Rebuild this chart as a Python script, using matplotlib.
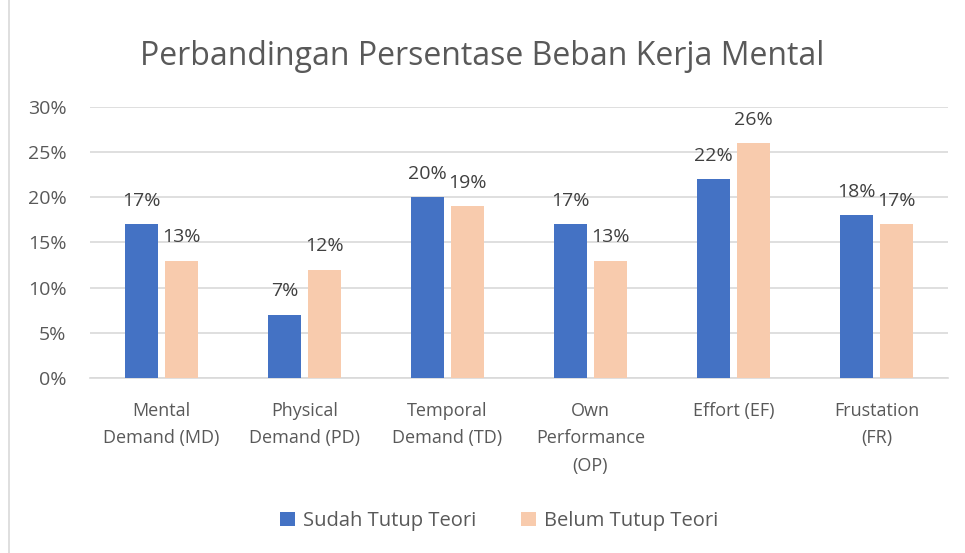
import matplotlib.pyplot as plt
import numpy as np
from matplotlib.patches import Rectangle

categories = ["Mental\nDemand (MD)", "Physical\nDemand (PD)", "Temporal\nDemand (TD)",
              "Own\nPerformance\n(OP)", "Effort (EF)", "Frustation\n(FR)"]
sudah = [17, 7, 20, 17, 22, 18]
belum = [13, 12, 19, 13, 26, 17]
series_names = ["Sudah Tutup Teori", "Belum Tutup Teori"]
yticks = [0, 5, 10, 15, 20, 25, 30]

plt.rcParams['font.family'] = ['Open Sans', 'DejaVu Sans']
text_col = "#595959"

fig = plt.figure(figsize=(9.65, 5.53), dpi=100)
ax = fig.add_axes([0.0933, 0.3165, 0.889, 0.49])

x = np.arange(len(categories))
w = 0.235
b1 = ax.bar(x - 0.14, sudah, w, color="#4472C4", label=series_names[0], zorder=3)
b2 = ax.bar(x + 0.14, belum, w, color="#F8CBAD", label=series_names[1], zorder=3)

for bars, vals in ((b1, sudah), (b2, belum)):
    for r, v in zip(bars, vals):
        ax.text(r.get_x() + r.get_width() / 2, v + 1.6, f"{v}%", ha="center", va="bottom",
                fontsize=14, color="#404040")

ax.set_xlim(-0.5, len(categories) - 0.5)
ax.set_ylim(0, 30)
ax.set_yticks(yticks)
ax.set_yticklabels([f"{t}%" for t in yticks], fontsize=14, color=text_col)
ax.set_xticks(x)
ax.set_xticklabels(categories, fontsize=13, color=text_col, linespacing=1.68)
ax.tick_params(axis="y", length=0, pad=17)
ax.tick_params(axis="x", length=0, pad=17)
ax.yaxis.grid(True, color="#D9D9D9", linewidth=1.2, zorder=0)
for s in ["top", "right", "left"]:
    ax.spines[s].set_visible(False)
ax.spines["bottom"].set_color("#D9D9D9")
ax.spines["bottom"].set_linewidth(1.2)

fig.text(0.5, 0.897, "Perbandingan Persentase Beban Kerja Mental", ha="center", va="center",
         fontsize=23, color=text_col)

fig.legend(loc="center", bbox_to_anchor=(0.517, 0.058), ncol=2, frameon=False, fontsize=14.5,
           handlelength=0.75, handleheight=0.75, columnspacing=2.2, handletextpad=0.4,
           labelcolor=text_col)

fig.patches.append(Rectangle((0.009, -0.01), 1.0, 1.05, transform=fig.transFigure,
                             fill=False, edgecolor="#D9D9D9", linewidth=1.2))

fig.savefig("out.png", dpi=100, facecolor="white")
